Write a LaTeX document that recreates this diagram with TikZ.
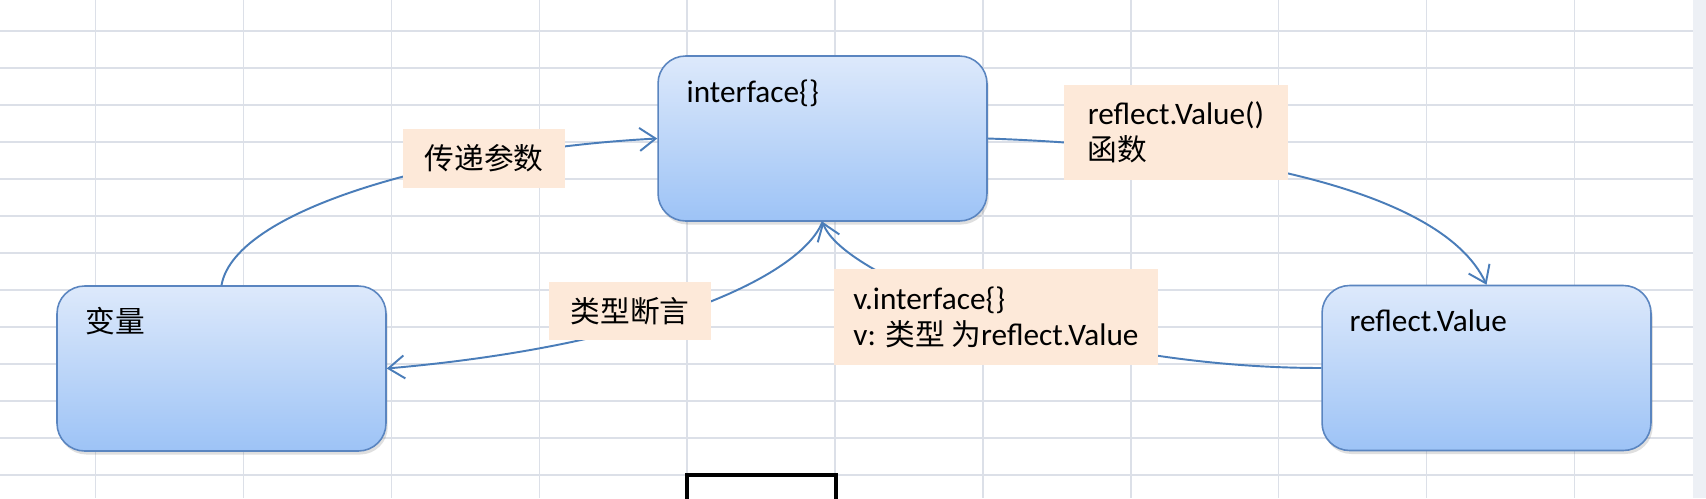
\documentclass[tikz,border=0pt]{standalone}
\usepackage{fontspec}
\setmainfont{Carlito}
\newfontfamily\cjk[Scale=0.95]{Noto Sans CJK SC}
\usepackage{tikz}
\usetikzlibrary{arrows.meta,shadows}
\definecolor{boxtop}{HTML}{DDE9FB}
\definecolor{boxbot}{HTML}{9DC3F6}
\definecolor{boxline}{HTML}{5A85C0}
\definecolor{linkblue}{HTML}{4A7DB9}
\definecolor{peach}{HTML}{FDE9D9}
\definecolor{gridgray}{HTML}{DCE0E8}
\definecolor{barside}{HTML}{EDF0F5}

\begin{document}
\begin{tikzpicture}[x=0.02cm, y=0.02cm,
    box/.style={rectangle, draw=boxline, line width=0.9pt, top color=boxtop, bottom color=boxbot, rounded corners=0.55cm, minimum width=6.58cm, minimum height=3.3cm, drop shadow={shadow xshift=1pt, shadow yshift=-2pt, opacity=0.25}},
    boxtxt/.style={anchor=base west, inner sep=0pt, font=\fontsize{17.8}{21}\selectfont},
    lbl/.style={rectangle, fill=peach, align=left, inner sep=0pt, font=\fontsize{17.8}{20.5}\selectfont},
    arr/.style={-{Straight Barb[length=0.32cm, width=0.46cm]}, line width=1.1pt, draw=linkblue}
]
\useasboundingbox (0,0) rectangle (1706,498);
\clip (0,0) rectangle (1706,498);

% sheet background
\fill[white] (0,0) rectangle (1706,498);
\fill[barside] (1693,0) rectangle (1706,498);
\foreach \r in {0,...,12}
    \draw[gridgray, line width=0.8pt] (0,{467-37*\r}) -- (1693,{467-37*\r});
\foreach \c in {0,...,10}
    \draw[gridgray, line width=0.8pt] ({95.5+147.9*\c},0) -- ({95.5+147.9*\c},498);
\draw[line width=2.2pt] (687,23) rectangle (836,-14);

\node[box] (ifbox) at (822.5,359.5) {};
\node[box] (varbox) at (221.5,129.5) {};
\node[box] (rvbox) at (1486.5,130) {};

\node[boxtxt] (iftxt) at ([xshift=0.58cm, yshift=-0.94cm]ifbox.north west) {interface\{\}};
\node[boxtxt] (vartxt) at ([xshift=0.58cm, yshift=-0.94cm]varbox.north west) {\cjk 变量};
\node[boxtxt] (rvtxt) at ([xshift=0.56cm, yshift=-0.94cm]rvbox.north west) {reflect.Value};

\draw[arr] (varbox.north) to[out=80, in=183, out distance=1.6cm, in distance=4cm] (ifbox.west);
\draw[arr] (ifbox.east) to[out=-2, in=115, out distance=4.4cm, in distance=2.2cm] (rvbox.north);
\draw[arr] (rvbox.west) to[out=180, in=-70, out distance=5cm, in distance=1.2cm] (ifbox.south);
\draw[arr] (ifbox.south) to[out=-112, in=5, out distance=1.2cm, in distance=5.3cm] (varbox.east);

\node[lbl, minimum width=3.24cm, minimum height=1.18cm] (pass) at (484,339.5) {\cjk 传递参数};
\node[lbl, minimum width=4.48cm, minimum height=1.9cm] (valfn) at (1176,365.5) {reflect.Value()\\{\cjk 函数}};
\node[lbl, minimum width=3.24cm, minimum height=1.16cm] (assert) at (630,187) {\cjk 类型断言};
\node[lbl, minimum width=6.48cm, minimum height=1.92cm] (conv) at (996,181) {v.interface\{\}\\v: {\cjk 类型 为}reflect.Value};
\end{tikzpicture}
\end{document}
